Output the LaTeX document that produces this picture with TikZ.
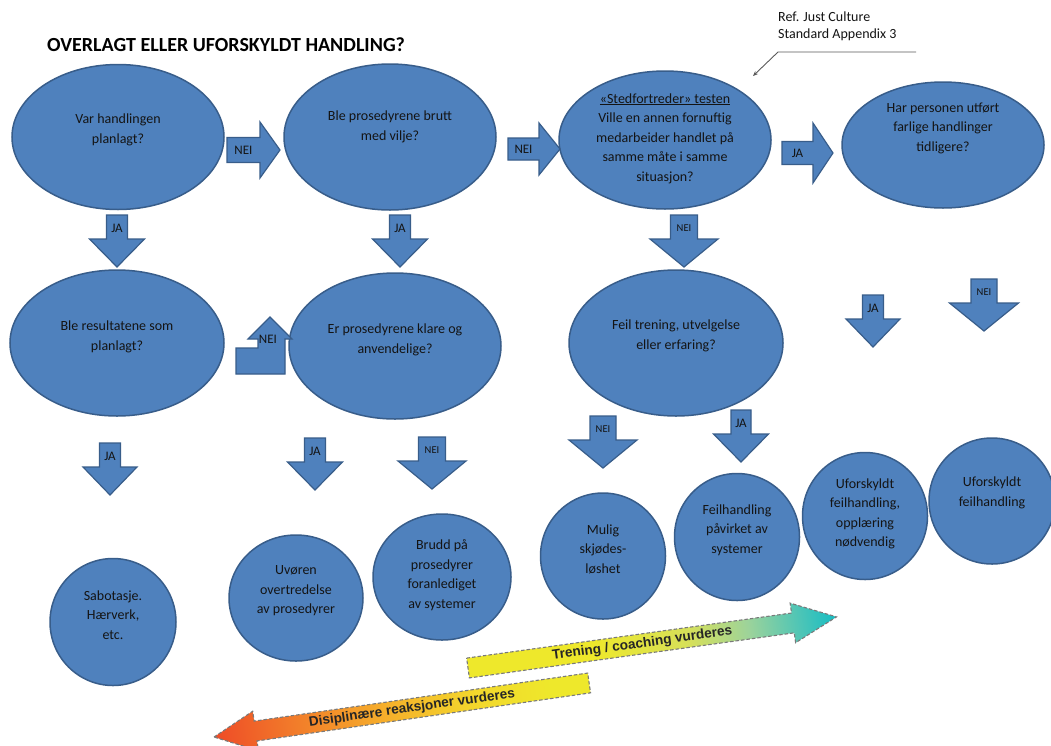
\documentclass[tikz,border=0pt]{standalone}
\usepackage{fontspec}
\setmainfont{Carlito}
\newfontfamily\bandfont{Liberation Sans}
\usetikzlibrary{shapes.geometric, arrows.meta}

\definecolor{boxblue}{HTML}{4F81BD}
\definecolor{boxedge}{HTML}{385D8A}
\definecolor{inkgray}{HTML}{141414}
\definecolor{refgray}{HTML}{5A5A5A}
\definecolor{bandedge}{HTML}{7A7A7A}
\definecolor{bandink}{HTML}{262626}
\definecolor{bandyellow}{HTML}{EEE82B}
\definecolor{bandlime}{HTML}{D6E05A}
\definecolor{bandmint}{HTML}{9DD39A}
\definecolor{bandaqua}{HTML}{4EC5B6}
\definecolor{bandteal}{HTML}{15BDC4}
\definecolor{bandred}{HTML}{EE4B27}
\definecolor{bandorange}{HTML}{F27D2A}
\definecolor{bandamber}{HTML}{F6B02B}
\definecolor{bandgold}{HTML}{F3D82C}

\pgfdeclarehorizontalshading{coachshade}{100bp}{color(0bp)=(bandyellow); color(25bp)=(bandyellow); color(42bp)=(bandyellow); color(55bp)=(bandlime); color(63bp)=(bandmint); color(70bp)=(bandaqua); color(75bp)=(bandteal); color(100bp)=(bandteal)}
\pgfdeclarehorizontalshading{disciplineshade}{100bp}{color(0bp)=(bandred); color(25bp)=(bandred); color(36bp)=(bandorange); color(48bp)=(bandamber); color(60bp)=(bandgold); color(70bp)=(bandyellow); color(100bp)=(bandyellow)}

\newcommand{\neisize}{\fontsize{10.5}{12}\selectfont}
% block arrows: name, centre x, top y, shaft half width, head half width, label
\newcommand{\downblock}[6]{%
  \draw[blockarrow] (#2-#4,#3) -- (#2+#4,#3) -- (#2+#4,#3+24) -- (#2+#5,#3+24)
    -- (#2,#3+52) -- (#2-#5,#3+24) -- (#2-#4,#3+24) -- cycle;
  \node[arrowlabel] (#1) at (#2,#3+13) {#6};}
% name, left x, centre y, head x, tip x, shaft half width, head half width, label
\newcommand{\rightblock}[8]{%
  \draw[blockarrow] (#2,#3-#6) -- (#4,#3-#6) -- (#4,#3-#7) -- (#5,#3)
    -- (#4,#3+#7) -- (#4,#3+#6) -- (#2,#3+#6) -- cycle;
  \node[arrowlabel] (#1) at ({(#2+#4)/2},#3) {#8};}

\tikzset{
  qshape/.style={ellipse, draw=boxedge, fill=boxblue, line width=1.5pt, inner sep=0pt},
  qtext/.style={align=center, text=inkgray, inner sep=0pt, font=\fontsize{14}{19.5}\selectfont},
  blockarrow/.style={draw=boxedge, fill=boxblue, line width=1.2pt, line join=miter},
  arrowlabel/.style={text=inkgray, inner sep=0pt, font=\fontsize{13}{15}\selectfont},
  titletext/.style={text=black, inner sep=0pt, font=\fontsize{20}{24}\selectfont\bfseries},
  reftext/.style={align=left, text=inkgray, inner sep=0pt, font=\fontsize{14}{16.5}\selectfont},
  refline/.style={draw=refgray, line width=0.9pt},
  bandline/.style={draw=bandedge, line width=1.1pt, dash pattern=on 3.5pt off 2pt},
  bandtext/.style={text=bandink, inner sep=0pt, font=\bandfont\bfseries\fontsize{13.6}{15}\selectfont}
}

\begin{document}
\begin{tikzpicture}[x=1pt, y=-1pt]
  \path[use as bounding box, fill=white] (0,0) rectangle (1051,745);

  \node[titletext, anchor=west] (title) at (47,45) {OVERLAGT ELLER UFORSKYLDT HANDLING?};

  % reference note
  \node[reftext, anchor=north west] (refnote) at (778,12) {Ref. Just Culture\\Standard Appendix 3};
  \coordinate (refend) at (916,52);
  \coordinate (refbend) at (778,52);
  \coordinate (reftip) at (753,76);
  \draw[refline, -{Stealth[length=5pt, width=4pt]}] (refend) -- (refbend) -- (reftip);

  % first row of questions
  \node[qshape, minimum width=212, minimum height=145] (planned) at (118,137) {};
  \node[qtext] (planned-t) at ([yshift=7]planned.center) {Var handlingen\\planlagt?};
  \node[qshape, minimum width=212, minimum height=146] (willful) at (390,137) {};
  \node[qtext] (willful-t) at ([yshift=10]willful.center) {Ble prosedyrene brutt\\med vilje?};
  \node[qshape, minimum width=212, minimum height=138] (substitute) at (665,140) {};
  \node[qtext] (substitute-t) at ([yshift=1.5]substitute.center)
    {\underline{«Stedfortreder» testen}\\Ville en annen fornuftig\\medarbeider handlet på\\samme måte i samme\\situasjon?};
  \node[qshape, minimum width=202, minimum height=126] (history) at (943,145) {};
  \node[qtext] (history-t) at ([yshift=17]history.center) {Har personen utført\\farlige handlinger\\tidligere?};

  % second row of questions
  \node[qshape, minimum width=214, minimum height=146] (outcome) at (117,343) {};
  \node[qtext] (outcome-t) at ([yshift=6]outcome.center) {Ble resultatene som\\planlagt?};
  \node[qshape, minimum width=212, minimum height=146] (clarity) at (395,346) {};
  \node[qtext] (clarity-t) at ([yshift=6]clarity.center) {Er prosedyrene klare og\\anvendelige?};
  \node[qshape, minimum width=214, minimum height=146] (training) at (676,343) {};
  \node[qtext] (training-t) at ([yshift=7]training.center) {Feil trening, utvelgelse\\eller erfaring?};

  % outcomes
  \node[qshape, minimum width=126, minimum height=127] (sabotage) at (113,622) {};
  \node[qtext] (sabotage-t) at ([yshift=7]sabotage.center) {Sabotasje.\\Hærverk,\\etc.};
  \node[qshape, minimum width=134, minimum height=126] (reckless) at (296,598) {};
  \node[qtext] (reckless-t) at ([yshift=7]reckless.center) {Uvøren\\overtredelse\\av prosedyrer};
  \node[qshape, minimum width=138, minimum height=126] (sysbreach) at (442,577) {};
  \node[qtext] (sysbreach-t) at ([yshift=2]sysbreach.center) {Brudd på\\prosedyrer\\foranlediget\\av systemer};
  \node[qshape, minimum width=125, minimum height=126] (careless) at (603,556) {};
  \node[qtext] (careless-t) at ([yshift=7]careless.center) {Mulig\\skjødes-\\løshet};
  \node[qshape, minimum width=125, minimum height=127] (sysinduced) at (737,537) {};
  \node[qtext] (sysinduced-t) at ([yshift=7]sysinduced.center) {Feilhandling\\påvirket av\\systemer};
  \node[qshape, minimum width=125, minimum height=127] (blamelesstrain) at (865,516) {};
  \node[qtext] (blamelesstrain-t) at ([yshift=2]blamelesstrain.center) {Uforskyldt\\feilhandling,\\opplæring\\nødvendig};
  \node[qshape, minimum width=126, minimum height=126] (blameless) at (992,501) {};
  \node[qtext] (blameless-t) at ([yshift=8]blameless.center) {Uforskyldt\\feilhandling};

  % block arrows
  \rightblock{nei1}{227}{150}{260}{280}{12.5}{28}{NEI}
  \rightblock{nei2}{508}{149}{539}{560}{11}{26}{NEI}
  \rightblock{ja3}{782}{153}{813}{833}{11.5}{30}{JA}
  \downblock{ja1}{117}{215}{10.5}{27.5}{JA}
  \downblock{ja2}{400}{215}{10.5}{27.5}{JA}
  \downblock{nei3}{684}{215}{13.5}{34}{\neisize NEI}
  \downblock{ja4}{873}{295}{10.5}{27}{JA}
  \downblock{nei4}{984}{279}{13}{34.5}{\neisize NEI}
  \downblock{nei5}{603}{416}{13}{34}{\neisize NEI}
  \downblock{ja5}{741}{410}{10}{27.5}{JA}
  \downblock{ja6}{110}{443}{10.5}{27}{JA}
  \downblock{ja7}{315}{438}{10.5}{27.5}{JA}
  \downblock{nei6}{432}{437}{13.5}{34}{\neisize NEI}

  % bent arrow back up to the clarity question
  \draw[blockarrow] (236,374) -- (285,374) -- (285,339) -- (292,339) -- (270,317)
    -- (248,339) -- (258,339) -- (258,348) -- (236,348) -- cycle;
  \node[arrowlabel] (nei0) at (268,339) {NEI};

  % gradient bands
  \begin{scope}[transform canvas={shift={(468,668)}, rotate=7.9}]
    \shadedraw[shading=coachshade, bandline] (0,-10) -- (328,-10) -- (328,-20) -- (372,0)
      -- (328,20) -- (328,10) -- (0,10) -- cycle;
    \node[bandtext] (coach) at (176,0) {Trening / coaching vurderes};
  \end{scope}
  \begin{scope}[transform canvas={shift={(214,737)}, rotate=8.2}]
    \shadedraw[shading=disciplineshade, bandline] (0,0) -- (42,-20) -- (42,-10) -- (379,-10)
      -- (379,10) -- (42,10) -- (42,20) -- cycle;
    \node[bandtext] (discipline) at (200,0) {Disiplinære reaksjoner vurderes};
  \end{scope}
\end{tikzpicture}
\end{document}
